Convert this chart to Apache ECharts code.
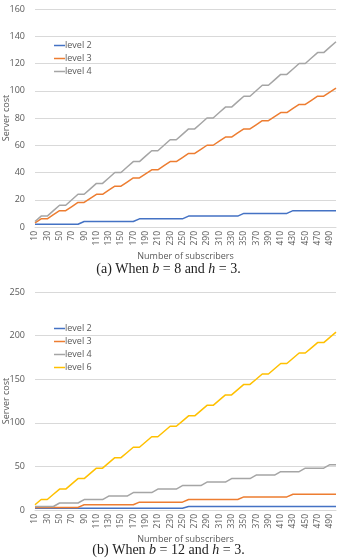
<!DOCTYPE html>
<html>
<head>
<meta charset="utf-8">
<script src="https://cdn.jsdelivr.net/npm/echarts@6/dist/echarts.min.js"></script>
<style>
html,body{margin:0;padding:0;background:#fff;}
#c{width:337px;height:560px;}
</style>
</head>
<body>
<div id="c"></div>
<script>
// Categories: number of subscribers
var subscribers = [10,20,30,40,50,60,70,80,90,100,110,120,130,140,150,160,170,180,190,200,
  210,220,230,240,250,260,270,280,290,300,310,320,330,340,350,360,370,380,390,400,
  410,420,430,440,450,460,470,480,490,500];

// (a) b = 8, h = 3
var a_level2 = [2,2,2,2,2,2,2,2,4,4,4,4,4,4,4,4,4,6,6,6,6,6,6,6,6,8,8,8,8,8,8,8,8,8,10,10,10,10,10,10,10,10,12,12,12,12,12,12,12,12];
var a_level3 = [3,6,6,9,12,12,15,18,18,21,24,24,27,30,30,33,36,36,39,42,42,45,48,48,51,54,54,57,60,60,63,66,66,69,72,72,75,78,78,81,84,84,87,90,90,93,96,96,99,102];
var a_level4 = [4,8,8,12,16,16,20,24,24,28,32,32,36,40,40,44,48,48,52,56,56,60,64,64,68,72,72,76,80,80,84,88,88,92,96,96,100,104,104,108,112,112,116,120,120,124,128,128,132,136];

// (b) b = 12, h = 3
var b_level2 = [2,2,2,2,2,2,2,2,2,2,2,2,2,2,2,2,2,2,2,2,2,2,2,2,2,4,4,4,4,4,4,4,4,4,4,4,4,4,4,4,4,4,4,4,4,4,4,4,4,4];
var b_level3 = [3,3,3,3,3,3,3,3,6,6,6,6,6,6,6,6,6,9,9,9,9,9,9,9,9,12,12,12,12,12,12,12,12,12,15,15,15,15,15,15,15,15,18,18,18,18,18,18,18,18];
var b_level4 = [4,4,4,4,8,8,8,8,12,12,12,12,16,16,16,16,20,20,20,20,24,24,24,24,28,28,28,28,32,32,32,32,36,36,36,36,40,40,40,40,44,44,44,44,48,48,48,48,52,52];
var b_level6 = [6,12,12,18,24,24,30,36,36,42,48,48,54,60,60,66,72,72,78,84,84,90,96,96,102,108,108,114,120,120,126,132,132,138,144,144,150,156,156,162,168,168,174,180,180,186,192,192,198,204];

// Axis settings
var yTicksA = {min: 0, max: 160, interval: 20};
var yTicksB = {min: 0, max: 250, interval: 50};

var C = {blue:'#4472C4', orange:'#ED7D31', gray:'#A5A5A5', yellow:'#FFC000'};
var txt = '#595959';
var font = 'Open Sans, Liberation Sans, sans-serif';

function xAxis(gi){
  return {
    type:'category', gridIndex:gi, data:subscribers, boundaryGap:false,
    axisLine:{lineStyle:{color:'#d9d9d9'}}, axisTick:{show:false},
    axisLabel:{rotate:90, interval:1, fontSize:8.5, color:txt, fontFamily:font, margin:4},
    name:'Number of subscribers', nameLocation:'middle', nameGap:25, nameMoveOverlap:false,
    nameTextStyle:{fontSize:9, color:txt, fontFamily:font}
  };
}
function yAxis(gi, t){
  return {
    type:'value', gridIndex:gi, min:t.min, max:t.max, interval:t.interval,
    axisLine:{show:false}, axisTick:{show:false},
    splitLine:{lineStyle:{color:'#d9d9d9', width:1}},
    axisLabel:{fontSize:9, color:txt, fontFamily:font, margin:10},
    name:'Server cost', nameLocation:'middle', nameGap:24, nameMoveOverlap:false,
    nameTextStyle:{fontSize:9, color:txt, fontFamily:font}
  };
}
function line(name, data, color, gi){
  return {type:'line', name:name, data:data, xAxisIndex:gi, yAxisIndex:gi,
    symbol:'none', color:color, lineStyle:{width:1.5, color:color}, animation:false};
}
function caption(label, b, y){
  return {
    type:'text', left:'center', top:y,
    style:{
      text:'{n|('+label+') When }{i|b}{n| = '+b+' and }{i|h}{n| = 3.}',
      rich:{
        n:{fontFamily:'Liberation Serif, DejaVu Serif, serif', fontSize:14, fill:'#222'},
        i:{fontFamily:'Liberation Serif, DejaVu Serif, serif', fontSize:14, fontStyle:'italic', fill:'#222'}
      }
    }
  };
}
var legendCommon = {
  orient:'vertical', left:49, icon:'rect', itemWidth:11, itemHeight:1.5, itemGap:4,
  textStyle:{fontSize:9, color:txt, fontFamily:font, padding:[0,0,0,-5]}
};

var chart = echarts.init(document.getElementById('c'));
chart.setOption({
  animation:false,
  grid:[
    {left:35, right:1, top:9, height:218, containLabel:false, outerBoundsMode:'none'},
    {left:35, right:1, top:292, height:218, containLabel:false, outerBoundsMode:'none'}
  ],
  legend:[
    Object.assign({}, legendCommon, {top:36, data:['level 2','level 3','level 4']}),
    Object.assign({}, legendCommon, {top:319, data:['level 2','level 3','level 4','level 6']})
  ],
  xAxis:[xAxis(0), xAxis(1)],
  yAxis:[yAxis(0, yTicksA), yAxis(1, yTicksB)],
  series:[
    line('level 2', a_level2, C.blue, 0),
    line('level 3', a_level3, C.orange, 0),
    line('level 4', a_level4, C.gray, 0),
    line('level 2', b_level2, C.blue, 1),
    line('level 3', b_level3, C.orange, 1),
    line('level 4', b_level4, C.gray, 1),
    line('level 6', b_level6, C.yellow, 1)
  ],
  graphic:[caption('a', 8, 262), caption('b', 12, 543)]
});
</script>
</body>
</html>
